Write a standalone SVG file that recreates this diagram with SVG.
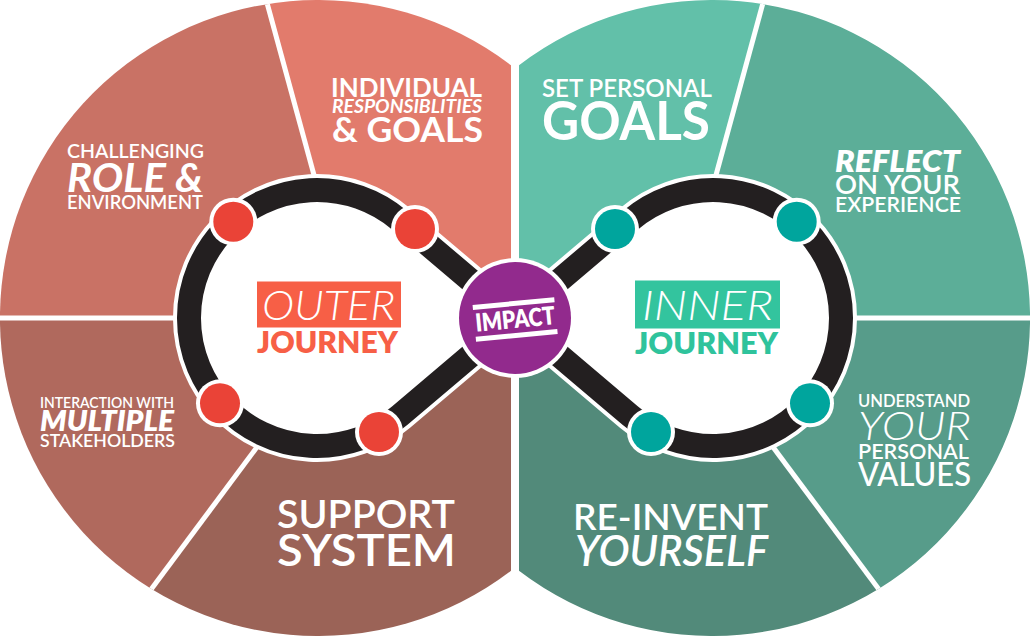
<svg xmlns="http://www.w3.org/2000/svg" width="1030" height="636" viewBox="0 0 1030 636">
<defs>
<style>
.t{font-family:Lato,"Open Sans","Liberation Sans",sans-serif;fill:#fff}
.div{stroke:#fff;stroke-width:5;fill:none}
.dotw{fill:#fff}
.red{fill:#ea4337}
.teal{fill:#00a59d}
</style>
<clipPath id="leftClip"><path d="M511,65.3 A318 318 0 1 0 511,570.7 Z"/></clipPath>
<clipPath id="rightClip"><path d="M519,65.3 A318 318 0 1 1 519,570.7 Z"/></clipPath>
<path id="loop" d="M515,318 L399.75,220.36 A128 128 0 1 0 399.75,415.64 L515,318 L630.25,220.36 A128 128 0 1 1 630.25,415.64 Z"/>
</defs>
<rect width="1030" height="636" fill="#fff"/>

<g id="outer-half" clip-path="url(#leftClip)">
  <g id="seg-challenging"><polygon points="353,318 263.5,-10 -10,-10 -10,318" fill="#c97265"/></g>
  <g id="seg-individual"><polygon points="353,318 263.5,-10 520,-10 520,318" fill="#e27b6c"/></g>
  <g id="seg-interaction"><polygon points="353,318 -10,318 -10,650 106,650" fill="#b0695d"/></g>
  <g id="seg-support"><polygon points="353,318 106,650 520,650 520,318" fill="#9b6357"/></g>
  <line class="div" x1="263.5" y1="-10" x2="353" y2="318"/>
  <line class="div" x1="106" y1="650" x2="353" y2="318"/>
  <line class="div" x1="-10" y1="318" x2="353" y2="318"/>
</g>

<g id="inner-half" clip-path="url(#rightClip)">
  <g id="seg-goals"><polygon points="677,318 766.5,-10 510,-10 510,318" fill="#62c0a9"/></g>
  <g id="seg-reflect"><polygon points="677,318 766.5,-10 1040,-10 1040,318" fill="#5cae98"/></g>
  <g id="seg-values"><polygon points="677,318 1040,318 1040,650 924,650" fill="#579c8a"/></g>
  <g id="seg-reinvent"><polygon points="677,318 924,650 510,650 510,318" fill="#528a7a"/></g>
  <line class="div" x1="766.5" y1="-10" x2="677" y2="318"/>
  <line class="div" x1="924" y1="650" x2="677" y2="318"/>
  <line class="div" x1="1040" y1="318" x2="677" y2="318"/>
</g>

<g id="connectors">
  <use href="#loop" fill="#fff" stroke="#fff" stroke-width="32" stroke-linejoin="round"/>
  <use href="#loop" fill="none" stroke="#231f20" stroke-width="24" stroke-linejoin="round"/>
</g>

<g id="dots-outer">
  <g id="dot-o1"><circle class="dotw" cx="233.3" cy="221.7" r="24"/><circle class="red" cx="233.3" cy="221.7" r="20"/></g>
  <g id="dot-o2"><circle class="dotw" cx="415" cy="229" r="24"/><circle class="red" cx="415" cy="229" r="20"/></g>
  <g id="dot-o3"><circle class="dotw" cx="220" cy="403.3" r="24"/><circle class="red" cx="220" cy="403.3" r="20"/></g>
  <g id="dot-o4"><circle class="dotw" cx="379" cy="432" r="24"/><circle class="red" cx="379" cy="432" r="20"/></g>
</g>
<g id="dots-inner">
  <g id="dot-i1"><circle class="dotw" cx="796.7" cy="221.7" r="24"/><circle class="teal" cx="796.7" cy="221.7" r="20"/></g>
  <g id="dot-i2"><circle class="dotw" cx="615" cy="229" r="24"/><circle class="teal" cx="615" cy="229" r="20"/></g>
  <g id="dot-i3"><circle class="dotw" cx="810" cy="403.3" r="24"/><circle class="teal" cx="810" cy="403.3" r="20"/></g>
  <g id="dot-i4"><circle class="dotw" cx="651" cy="432" r="24"/><circle class="teal" cx="651" cy="432" r="20"/></g>
</g>

<g id="impact">
  <circle cx="515" cy="318" r="60" fill="#fff"/>
  <circle cx="515" cy="318" r="56" fill="#922a8d"/>
  <g transform="rotate(-5.5 515 318)">
    <rect x="474" y="301" width="82" height="5" fill="#fff"/>
    <rect x="474" y="333" width="82" height="5" fill="#fff"/>
    <text class="t" x="515" y="328" font-size="25" font-weight="800" text-anchor="middle" textLength="80" lengthAdjust="spacingAndGlyphs">IMPACT</text>
  </g>
</g>

<g id="outer-journey">
  <rect x="257" y="281.5" width="144" height="46" fill="#f75f46"/>
  <text class="t" x="262" y="320" font-size="42" font-weight="300" font-style="italic" textLength="133" lengthAdjust="spacingAndGlyphs">OUTER</text>
  <text class="t" x="257" y="353" font-size="30" font-weight="800" style="fill:#f75f46" textLength="141" lengthAdjust="spacingAndGlyphs">JOURNEY</text>
</g>
<g id="inner-journey">
  <rect x="635" y="280.5" width="145" height="48" fill="#33c49e"/>
  <text class="t" x="642" y="320" font-size="42" font-weight="300" font-style="italic" textLength="131" lengthAdjust="spacingAndGlyphs">INNER</text>
  <text class="t" x="635" y="354" font-size="30" font-weight="800" style="fill:#2fc39c" textLength="143" lengthAdjust="spacingAndGlyphs">JOURNEY</text>
</g>

<g id="label-challenging">
  <text class="t" x="67" y="158" font-size="19.5" font-weight="600" textLength="137" lengthAdjust="spacingAndGlyphs">CHALLENGING</text>
  <text class="t" x="67" y="192" font-size="40" font-weight="700" font-style="italic" textLength="136" lengthAdjust="spacingAndGlyphs">ROLE &amp;</text>
  <text class="t" x="67" y="209" font-size="18.5" font-weight="600" textLength="136" lengthAdjust="spacingAndGlyphs">ENVIRONMENT</text>
</g>
<g id="label-individual">
  <text class="t" x="331" y="97" font-size="26.5" font-weight="700" textLength="151" lengthAdjust="spacingAndGlyphs">INDIVIDUAL</text>
  <text class="t" x="332" y="113" font-size="18" font-weight="700" font-style="italic" textLength="150" lengthAdjust="spacingAndGlyphs">RESPONSIBLITIES</text>
  <text class="t" x="332" y="142" font-size="35" font-weight="700" textLength="151" lengthAdjust="spacingAndGlyphs">&amp; GOALS</text>
</g>
<g id="label-interaction">
  <text class="t" x="40" y="408" font-size="14.7" font-weight="600" textLength="134" lengthAdjust="spacingAndGlyphs">INTERACTION WITH</text>
  <text class="t" x="40" y="431" font-size="28" font-weight="800" font-style="italic" textLength="134" lengthAdjust="spacingAndGlyphs">MULTIPLE</text>
  <text class="t" x="40" y="447" font-size="18" font-weight="600" textLength="135" lengthAdjust="spacingAndGlyphs">STAKEHOLDERS</text>
</g>
<g id="label-support">
  <text class="t" x="277" y="528" font-size="37.7" font-weight="600" textLength="178" lengthAdjust="spacingAndGlyphs">SUPPORT</text>
  <text class="t" x="277" y="566" font-size="44.5" font-weight="600" textLength="179" lengthAdjust="spacingAndGlyphs">SYSTEM</text>
</g>
<g id="label-goals">
  <text class="t" x="542" y="97" font-size="24" font-weight="600" textLength="170" lengthAdjust="spacingAndGlyphs">SET PERSONAL</text>
  <text class="t" x="542" y="140" font-size="53" font-weight="700" textLength="168" lengthAdjust="spacingAndGlyphs">GOALS</text>
</g>
<g id="label-reflect">
  <text class="t" x="835" y="172" font-size="30.7" font-weight="800" font-style="italic" textLength="125" lengthAdjust="spacingAndGlyphs">REFLECT</text>
  <text class="t" x="835" y="194" font-size="26.5" font-weight="600" textLength="125" lengthAdjust="spacingAndGlyphs">ON YOUR</text>
  <text class="t" x="835" y="212" font-size="21" font-weight="600" textLength="126" lengthAdjust="spacingAndGlyphs">EXPERIENCE</text>
</g>
<g id="label-values">
  <text class="t" x="858" y="407" font-size="16.5" font-weight="600" textLength="112" lengthAdjust="spacingAndGlyphs">UNDERSTAND</text>
  <text class="t" x="858" y="440" font-size="40" font-weight="300" font-style="italic" textLength="113" lengthAdjust="spacingAndGlyphs">YOUR</text>
  <text class="t" x="858" y="459" font-size="21" font-weight="600" textLength="111" lengthAdjust="spacingAndGlyphs">PERSONAL</text>
  <text class="t" x="858" y="486" font-size="32" font-weight="500" textLength="113" lengthAdjust="spacingAndGlyphs">VALUES</text>
</g>
<g id="label-reinvent">
  <text class="t" x="573" y="530" font-size="36" font-weight="600" textLength="195" lengthAdjust="spacingAndGlyphs">RE-INVENT</text>
  <text class="t" x="575" y="566" font-size="42" font-weight="600" font-style="italic" textLength="193" lengthAdjust="spacingAndGlyphs">YOURSELF</text>
</g>
</svg>
